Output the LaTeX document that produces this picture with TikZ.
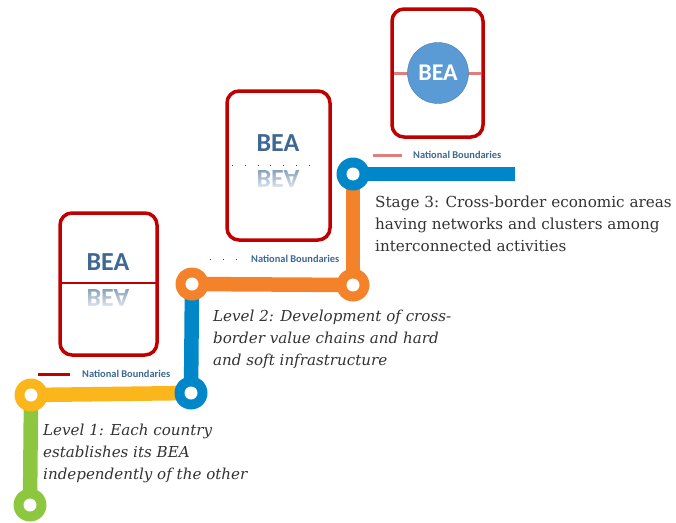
\documentclass[tikz,border=0pt]{standalone}
\usepackage{fontspec}
\setmainfont{DejaVu Serif}
\newfontfamily\beafont{Carlito}
\usetikzlibrary{fadings}
\definecolor{cgreen}{HTML}{8DC63F}
\definecolor{cyellow}{HTML}{FBB61C}
\definecolor{cblue}{HTML}{0087CA}
\definecolor{corange}{HTML}{F3822B}
\definecolor{cred}{HTML}{C00000}
\definecolor{cpink}{HTML}{E27D7D}
\definecolor{ctext}{HTML}{3E6893}
\definecolor{cbody}{HTML}{333333}
\definecolor{cball}{HTML}{5B9BD5}
\tikzfading[name=fadedown, top color=transparent!100, bottom color=transparent!0]
\tikzset{
  track/.style={line width=14.5pt},
  stop/.style={circle, minimum size=33pt, inner sep=0pt, fill=#1, path picture={\fill[white] (path picture bounding box.center) circle (6.5pt);}},
  beabox/.style={draw=cred, line width=3.5pt, rounded corners=12pt, fill=white},
  bea/.style={font=\beafont\bfseries\fontsize{26}{26}\selectfont, text=ctext, inner sep=0pt},
  natb/.style={font=\beafont\bfseries\fontsize{10.4}{11}\selectfont, text=ctext, inner sep=0pt, anchor=west},
  body/.style={font=\fontsize{15.2}{22}\selectfont, text=cbody, align=left, anchor=north west, inner sep=0pt},
  ibody/.style={body, font=\itshape\fontsize{15.1}{22}\selectfont},
}
\begin{document}
\begin{tikzpicture}[x=1pt,y=-1pt]
\useasboundingbox (0,0) rectangle (676,522);
% stops (positions)
\coordinate (g1) at (30,505);
\coordinate (y1) at (31,395);
\coordinate (b1) at (191,393);
\coordinate (o1) at (192,284);
\coordinate (o2) at (353,285);
\coordinate (b2) at (353,174);
\coordinate (end) at (515,174);
% tracks
\draw[track, cgreen] (g1) -- (y1);
\draw[track, cyellow] (y1) -- (b1);
\draw[track, cblue] (b1) -- (o1);
\draw[track, corange] (o1) -- (o2);
\draw[track, corange] (o2) -- (b2);
\draw[track, cblue] (b2) -- (end);
% stops on top
\node[stop=cgreen] (sg1) at (g1) {};
\node[stop=cyellow] (sy1) at (y1) {};
\node[stop=cblue] (sb1) at (b1) {};
\node[stop=corange] (so1) at (o1) {};
\node[stop=corange] (so2) at (o2) {};
\node[stop=cblue] (sb2) at (b2) {};
% box 1
\draw[beabox] (60,213) rectangle (157,355);
\draw[cred, line width=2.5pt] (60,283) -- (157,283);
\node[bea] (bea1) at (108,262) {BEA};
\node[bea, yscale=-1, text=ctext!70] (bea1r) at (108,298) {BEA};
\fill[white, path fading=fadedown] (75,286) rectangle (140,313);
% box 2
\draw[beabox] (227,91) rectangle (330,240);
\draw[cred, line width=0.8pt, dash pattern=on 0.8pt off 12pt] (232,165) -- (320,165);
\node[bea] (bea2) at (278,143) {BEA};
\node[bea, yscale=-1, text=ctext!70] (bea2r) at (278,179) {BEA};
\fill[white, path fading=fadedown] (245,167) rectangle (312,194);
% box 3
\draw[beabox] (392,9) rectangle (483,137);
\draw[cpink, line width=3pt] (394,73) -- (481,73);
\node[circle, fill=cball, draw=cball!80!black, line width=0.4pt, minimum size=61pt, inner sep=0pt, text=white, font=\beafont\bfseries\fontsize{24}{24}\selectfont] (ball) at (438,73) {BEA};
% national boundaries legends
\draw[cred, line width=3pt] (38,374) -- (70,374);
\node[natb] (nb1) at (82,374) {National Boundaries};
\draw[cred, line width=0.8pt, dash pattern=on 0.8pt off 12pt] (210,259) -- (240,259);
\node[natb] (nb2) at (251,259) {National Boundaries};
\draw[cpink, line width=3pt] (373,155) -- (402,155);
\node[natb] (nb3) at (413,155) {National Boundaries};
% texts
\node[body] (t3) at (375,196) {Stage 3: Cross-border economic areas\\having networks and clusters among\\interconnected activities};
\node[ibody] (t2) at (213,310) {Level 2: Development of cross-\\border value chains and hard\\and soft infrastructure};
\node[ibody] (t1) at (43,424) {Level 1: Each country\\establishes its BEA\\independently of the other};
\end{tikzpicture}
\end{document}
